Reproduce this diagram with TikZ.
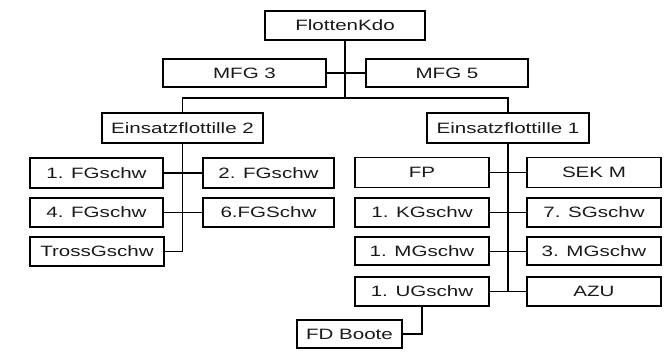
\documentclass[tikz,border=0pt]{standalone}
\usepackage{fontspec}
\setmainfont{Liberation Sans}[FakeStretch=1.37]
\begin{document}
\begin{tikzpicture}[x=1pt,y=-1pt,
  box/.style={draw, line width=1.3pt, inner sep=0pt, minimum height=29pt,
    font=\fontsize{15}{18}\selectfont, text=black!90},
  conn/.style={line width=1.3pt},
  thinconn/.style={line width=0.5pt}]
\useasboundingbox (0,0) rectangle (664,351);
% nodes
\node[box, minimum width=160pt] (flot) at (345,25.5) {FlottenKdo};
\node[box, minimum width=163pt, minimum height=28pt] (mfg3) at (244.5,73) {MFG 3};
\node[box, minimum width=162pt, minimum height=28pt] (mfg5) at (447,73) {MFG 5};
\node[box, minimum width=161pt, minimum height=30pt] (ef2) at (182.5,128) {Einsatzflottille 2};
\node[box, minimum width=162pt, minimum height=30pt] (ef1) at (508,128) {Einsatzflottille 1};
\node[box, minimum width=133pt, minimum height=30pt] (fg1) at (96.5,173) {1. FGschw};
\node[box, minimum width=131pt, minimum height=30pt] (fg2) at (268.5,173) {2. FGschw};
\node[box, minimum width=133pt] (fg4) at (96.5,212.5) {4. FGschw};
\node[box, minimum width=131pt] (fg6) at (268.5,212.5) {6.FGSchw};
\node[box, minimum width=134pt] (tross) at (97,251.5) {TrossGschw};
\node[box, minimum width=134pt, minimum height=30pt] (fp) at (422,172.5) {FP};
\node[box, minimum width=134pt, minimum height=30pt] (sek) at (594,172.5) {SEK M};
\node[box, minimum width=134pt] (kg1) at (422,212.5) {1. KGschw};
\node[box, minimum width=134pt] (sg7) at (594,212.5) {7. SGschw};
\node[box, minimum width=134pt, minimum height=28pt] (mg1) at (422,251) {1. MGschw};
\node[box, minimum width=134pt, minimum height=28pt] (mg3) at (594,251) {3. MGschw};
\node[box, minimum width=134pt] (ug1) at (422,291.5) {1. UGschw};
\node[box, minimum width=134pt] (azu) at (594,291.5) {AZU};
\node[box, minimum width=105pt, minimum height=28pt] (fdb) at (349.5,334) {FD Boote};
% connectors
\coordinate (hub) at (345,98);
\draw[conn] (flot.south) -- (hub);
\draw[conn] (mfg3.east) -- (mfg5.west);
\draw[conn] (ef2.north) |- (hub) -| (ef1.north);
\draw[conn] (ef2.south) -- (ef2.south |- tross.east);
\draw[thinconn] (tross.east) -- (ef2.south |- tross.east);
\draw[conn] (fg1.east) -- (fg2.west);
\draw[conn] (fg4.east) -- (fg6.west);
\draw[conn] (ef1.south) -- (ef1.south |- azu.west);
\draw[conn] (fp.east) -- (sek.west);
\draw[conn] (kg1.east) -- (sg7.west);
\draw[thinconn] (mg1.east) -- (mg3.west);
\draw[conn] (ug1.east) -- (azu.west);
\draw[conn] (ug1.south) |- (fdb.east);
\end{tikzpicture}
\end{document}
